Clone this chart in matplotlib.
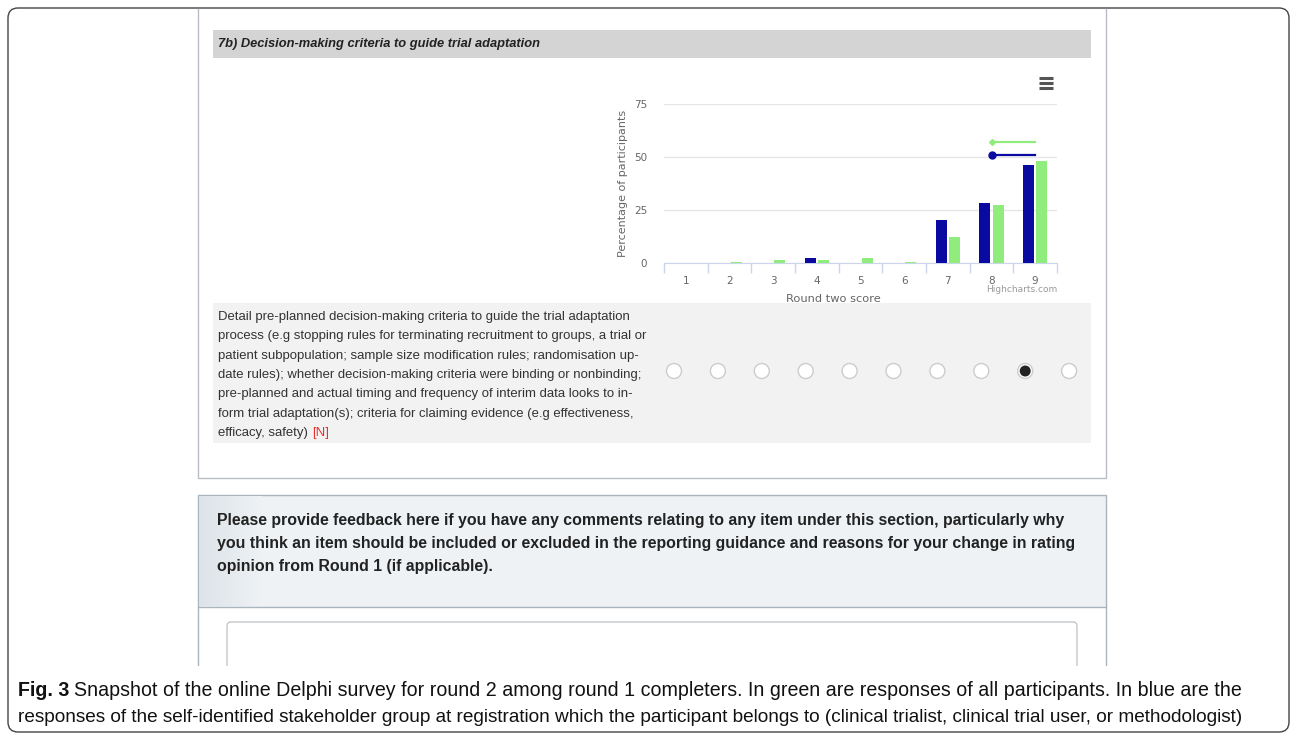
import matplotlib.pyplot as plt
import numpy as np
from matplotlib.patches import Rectangle, FancyBboxPatch, Circle

# data
scores = [1, 2, 3, 4, 5, 6, 7, 8, 9]
group_pct = [0, 0, 0, 2.5, 0, 0, 20.1, 28.3, 46.4]     # blue: own stakeholder group
all_pct = [0, 0.5, 1.6, 1.6, 2.5, 0.5, 12.3, 27.4, 48.1]  # green: all participants
all_range = [8, 9]
all_level = 57
group_range = [8, 9]
group_level = 51
yticks = [0, 25, 50, 75]
selected = 9  # radio button picked (10 buttons)

header = "7b) Decision-making criteria to guide trial adaptation"
item_lines = [
    "Detail pre-planned decision-making criteria to guide the trial adaptation",
    "process (e.g stopping rules for terminating recruitment to groups, a trial or",
    "patient subpopulation; sample size modification rules; randomisation up-",
    "date rules); whether decision-making criteria were binding or nonbinding;",
    "pre-planned and actual timing and frequency of interim data looks to in-",
    "form trial adaptation(s); criteria for claiming evidence (e.g effectiveness,",
    "efficacy, safety)",
]
feedback_lines = [
    "Please provide feedback here if you have any comments relating to any item under this section, particularly why",
    "you think an item should be included or excluded in the reporting guidance and reasons for your change in rating",
    "opinion from Round 1 (if applicable).",
]
caption_lines = [
    "Snapshot of the online Delphi survey for round 2 among round 1 completers. In green are responses of all participants. In blue are the",
    "responses of the self-identified stakeholder group at registration which the participant belongs to (clinical trialist, clinical trial user, or methodologist)",
]

BLUE = '#0a0aa0'
GREEN = '#90ed7d'
narrow = ['Liberation Sans Narrow', 'Liberation Sans', 'DejaVu Sans']

W, H = 1293, 736
fig = plt.figure(figsize=(W / 100, H / 100), dpi=100)

# background axes in pixel coordinates for the page layout
bg = fig.add_axes([0, 0, 1, 1])

# outer rounded frame
bg.add_patch(FancyBboxPatch((8, 8), W - 12, H - 12, boxstyle="round,pad=0,rounding_size=10",
                            fc='white', ec='#444444', lw=1))
# survey question panel
bg.plot([198, 198, 1106, 1106], [9, 478, 478, 9], color='#b8bec4', lw=1)
bg.add_patch(Rectangle((213, 30), 878, 28, fc='#d4d4d4', ec='none'))
bg.text(218, 44, header, fontsize=9.3, fontweight='bold', fontstyle='italic',
        family=narrow, va='center', color='#222222')

# hamburger menu
for yy in [78, 83, 88]:
    bg.plot([1039, 1053], [yy, yy], color='#555555', lw=2.2, solid_capstyle='butt')

# item text + radio buttons
bg.add_patch(Rectangle((213, 303), 878, 140, fc='#f2f2f2', ec='none'))
for i, line in enumerate(item_lines):
    t = bg.text(218, 317 + i * 19.3, line, fontsize=9.45, family=narrow, va='center', color='#333333')
bg.annotate("[N]", xy=(1, 0.5), xycoords=t, xytext=(3, 0), textcoords='offset points',
            va='center', fontsize=9.45, family=narrow, color='#e8312f')
for k in range(10):
    cx = 674 + k * 43.9
    bg.add_patch(Circle((cx, 371), 7.5, fc='white', ec='#cccccc', lw=1))
    if k + 1 == selected:
        bg.add_patch(Circle((cx, 371), 5.5, fc='#222222', ec='none'))

# feedback panel
bg.add_patch(Rectangle((198, 495), 908, 112, fc='#eef2f5', ec='#aab4bc', lw=1))
grad = np.linspace(0, 1, 64)[None, :]
bg.imshow(grad, cmap=plt.matplotlib.colors.LinearSegmentedColormap.from_list('g', ['#dde3e8', '#eef2f5']),
          extent=(199, 262, 606, 496), aspect='auto', zorder=2)
for i, line in enumerate(feedback_lines):
    bg.text(217, 521 + i * 22.5, line, fontsize=11.4, fontweight='bold', family=narrow,
            va='center', color='#222222', zorder=3)
bg.plot([198, 198], [607, 665], color='#aab4bc', lw=1)
bg.plot([1106, 1106], [607, 665], color='#aab4bc', lw=1)
bg.add_patch(FancyBboxPatch((227, 622), 850, 60, boxstyle="round,pad=0,rounding_size=4",
                            fc='white', ec='#c4c8cc', lw=1))
bg.add_patch(Rectangle((190, 666), 930, 20, fc='white', ec='none', zorder=3))
bg.set_xlim(0, W)
bg.set_ylim(H, 0)
bg.axis('off')

# caption
fb = bg.text(18, 690, "Fig. 3", fontsize=14.1, fontweight='bold', family=narrow,
             va='center', color='#111111', zorder=4)
bg.annotate(caption_lines[0], xy=(1, 0.5), xycoords=fb, xytext=(3, 0), textcoords='offset points',
            va='center', fontsize=14.1, family=narrow, color='#111111', zorder=4)
bg.text(18, 717, caption_lines[1], fontsize=13.7, family=narrow, va='center', color='#111111', zorder=4)

# the chart itself
left, right, bottom, top = 664, 1057, 263, 104
ax = fig.add_axes([left / W, 1 - bottom / H, (right - left) / W, (bottom - top) / H])
ax.patch.set_alpha(0)
x = np.array(scores)
g = np.array(group_pct)
a = np.array(all_pct)
ax.bar(x[g > 0] - 0.15, g[g > 0], width=0.25, color=BLUE, zorder=3)
ax.bar(x[a > 0] + 0.15, a[a > 0], width=0.25, color=GREEN, zorder=3)
ax.plot(all_range, [all_level] * 2, color=GREEN, lw=1.6, zorder=4)
ax.plot(all_range[:1], [all_level], marker='D', ms=3, color=GREEN, zorder=4)
ax.plot(group_range, [group_level] * 2, color=BLUE, lw=1.6, zorder=4)
ax.plot(group_range[:1], [group_level], marker='o', ms=5, color=BLUE, zorder=4)

ax.set_xlim(0.5, 9.5)
ax.set_ylim(0, 75)
ax.set_yticks(yticks)
ax.set_xticks(scores)
ax.set_xticks(np.arange(0.5, 10, 1), minor=True)
ax.tick_params(axis='x', which='major', length=0, pad=9, labelsize=7.5, labelcolor='#666666')
ax.tick_params(axis='x', which='minor', length=7, color='#ccd6eb', width=1)
ax.tick_params(axis='y', length=0, pad=12, labelsize=7.5, labelcolor='#666666')
ax.grid(axis='y', color='#e6e6e6', lw=1, zorder=0)
for s in ['top', 'right', 'left']:
    ax.spines[s].set_visible(False)
ax.spines['bottom'].set_color('#ccd6eb')
ax.set_xlabel("Round two score", fontsize=8.2, color='#666666')
ax.xaxis.set_label_coords((833 - left) / (right - left), -(294 - bottom) / (bottom - top))
ax.set_ylabel("Percentage of participants", fontsize=8, color='#666666')
ax.yaxis.set_label_coords(-(664 - 628) / (right - left), 0.5)
ax.text(1.0, -(290 - bottom) / (bottom - top), "Highcharts.com", transform=ax.transAxes,
        ha='right', va='center', fontsize=6.5, color='#999999')

fig.savefig('out.png', dpi=100)
